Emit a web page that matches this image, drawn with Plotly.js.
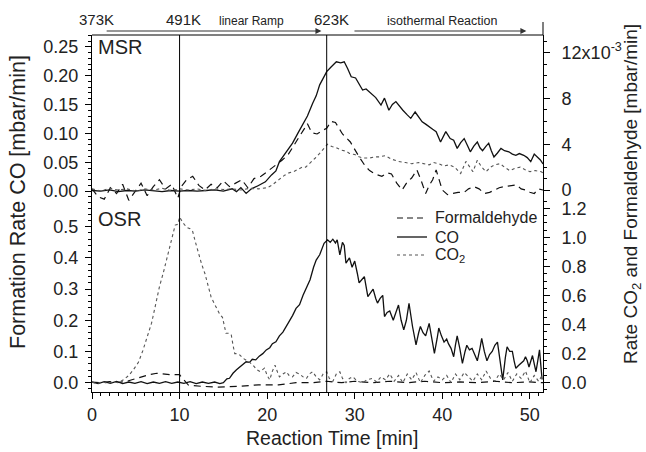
<!DOCTYPE html>
<html>
<head>
<meta charset="utf-8">
<script src="https://cdn.plot.ly/plotly-3.0.1.min.js"></script>
<style>html,body{margin:0;padding:0;background:#fff;}#chart{width:646px;height:452px;}</style>
</head>
<body>
<div id="chart"></div>
<script>
// ---- Data (time [min], value) ----
// MSR panel: CO on left axis [mbar/min]; CO2 & formaldehyde on right axis in units of 1e-3 mbar/min
const msrCO = [[0,0.001],[1,0.0],[2,0.002],[3,-0.001],[4,0.001],[5,0.0],[6,0.002],[7,0.0],[8,-0.001],[9,0.001],[10,0.0],[11,0.001],[12,0.0],[13,0.001],[14,0.002],[15,0.0],[16,0.004],[16.5,-0.001],[17,0.006],[17.6,-0.004],[18.2,0.004],[18.8,0.008],[19.3,0.012],[19.8,0.016],[20.5,0.028],[21.0,0.035],[21.4,0.051],[22.0,0.063],[22.9,0.083],[23.5,0.1],[24.1,0.117],[24.6,0.13],[25.2,0.152],[25.6,0.165],[26.0,0.184],[26.4,0.195],[26.8,0.207],[27.3,0.215],[27.9,0.224],[28.4,0.222],[28.8,0.224],[29.2,0.212],[29.6,0.198],[30.1,0.196],[30.5,0.186],[30.9,0.175],[31.3,0.177],[31.9,0.169],[32.4,0.162],[33.0,0.149],[33.4,0.161],[33.9,0.14],[34.3,0.15],[34.7,0.155],[35.1,0.147],[35.5,0.14],[36.0,0.132],[36.4,0.126],[36.9,0.137],[37.3,0.128],[37.7,0.12],[38.1,0.116],[38.5,0.111],[38.9,0.107],[39.3,0.103],[39.8,0.085],[40.4,0.103],[40.9,0.091],[41.3,0.088],[41.7,0.074],[42.1,0.084],[42.5,0.091],[42.9,0.078],[43.2,0.068],[43.6,0.078],[44.0,0.085],[44.3,0.075],[44.6,0.07],[45.0,0.078],[45.3,0.083],[45.6,0.07],[45.9,0.059],[46.3,0.066],[46.7,0.074],[47.1,0.07],[47.6,0.068],[48.0,0.064],[48.4,0.062],[48.8,0.065],[49.3,0.062],[49.7,0.058],[50.1,0.051],[50.5,0.064],[50.9,0.058],[51.2,0.054],[51.5,0.047]];
const msrHCHO = [[0,0.1],[0.7,-0.6],[1.4,-0.8],[2.1,0.2],[2.8,-0.3],[3.5,0.5],[4.2,-0.9],[4.9,-0.2],[5.6,0.6],[6.3,-0.5],[7.0,0.3],[7.7,0.9],[8.4,0.1],[9.1,0.5],[9.8,-0.7],[10.2,0.3],[10.8,0.9],[11.5,1.2],[12.2,0.4],[12.9,0.0],[13.6,0.5],[14.3,0.2],[15.0,0.8],[15.7,0.3],[16.4,0.6],[17.1,0.9],[17.8,0.2],[18.5,1.0],[19.3,1.2],[20.2,1.7],[21.0,2.2],[21.7,2.6],[22.4,3.1],[23.0,3.9],[23.7,4.7],[24.2,5.3],[24.6,5.8],[25.1,5.0],[25.7,4.9],[26.3,5.2],[26.8,5.4],[27.3,6.0],[27.8,5.9],[28.6,4.9],[29.5,4.2],[30.5,2.9],[31.2,2.1],[31.7,1.7],[32.3,1.4],[33.1,1.2],[33.7,1.5],[34.2,1.4],[34.8,0.6],[35.4,0.0],[36.0,0.7],[36.5,1.05],[37.1,1.75],[37.6,0.8],[38.1,-0.3],[38.5,0.4],[38.9,0.9],[39.3,1.75],[39.6,0.9],[40.0,0.0],[40.6,-0.4],[41.2,-0.3],[41.8,-0.2],[42.5,-0.2],[43.0,0.1],[43.6,0.3],[44.2,0.1],[44.8,-0.3],[45.4,-0.2],[46.0,0.0],[46.5,0.2],[47.1,0.3],[47.8,0.4],[48.5,0.45],[49.0,0.1],[49.5,0.0],[50.0,-0.2],[50.5,-0.3],[51.0,0.1],[51.5,0.0]];
const msrCO2 = [[0,0.1],[1,-0.1],[2,0.15],[3,0.0],[4,0.1],[5,-0.1],[6,0.1],[7,0.0],[8,0.15],[9,-0.05],[10,0.1],[11,0.0],[12,0.1],[13,-0.05],[14,0.1],[15,0.05],[16,0.1],[17,0.0],[18,0.15],[19,0.1],[20,0.2],[20.5,0.4],[21,0.7],[21.5,1.0],[22,1.3],[22.5,1.5],[23,1.6],[23.5,1.8],[24,2.0],[24.4,2.0],[25,2.4],[25.5,2.8],[26,3.2],[26.5,3.6],[26.9,4.0],[27.4,3.8],[27.9,3.7],[28.4,3.5],[29,3.4],[29.4,3.2],[30,3.1],[30.5,2.9],[31,2.8],[31.7,2.8],[32.3,2.9],[32.8,2.9],[33.5,3.0],[34.2,2.7],[35,2.5],[35.8,2.4],[36.5,2.3],[37.3,2.4],[38,2.3],[38.5,2.2],[39,2.4],[39.6,2.3],[40.2,2.1],[40.8,2.2],[41.4,2.0],[42.1,1.45],[42.7,2.5],[43.1,2.0],[43.5,1.6],[44.0,2.6],[44.5,2.0],[45.0,1.6],[45.5,2.0],[46.0,2.2],[46.6,2.3],[47.1,2.0],[47.7,1.7],[48.3,1.9],[48.9,2.0],[49.4,1.8],[50.0,1.6],[50.6,1.7],[51.3,1.6],[51.5,1.5]];
// OSR panel: CO on left axis; CO2 & formaldehyde on right axis [mbar/min]
const osrCO = [[0,0.002],[0.7,-0.003],[1.4,0.003],[2.1,-0.002],[2.8,0.004],[3.5,-0.003],[4.2,0.002],[4.9,-0.002],[5.6,0.003],[6.3,-0.003],[7,0.002],[7.7,-0.002],[8.4,0.003],[9.1,-0.002],[9.8,0.002],[10.5,-0.002],[11.2,0.003],[11.9,-0.003],[12.6,0.002],[13.3,-0.002],[14,0.002],[14.6,-0.003],[15.0,0.0],[15.4,0.012],[15.7,0.014],[16.1,0.03],[16.5,0.041],[16.9,0.05],[17.3,0.058],[17.6,0.067],[18.0,0.065],[18.3,0.075],[18.7,0.073],[19.1,0.085],[19.5,0.093],[19.9,0.105],[20.3,0.112],[20.6,0.125],[21.0,0.131],[21.4,0.15],[21.8,0.162],[22.2,0.18],[22.5,0.195],[22.9,0.215],[23.3,0.238],[23.7,0.25],[24.1,0.28],[24.5,0.308],[24.9,0.33],[25.3,0.37],[25.6,0.393],[26.0,0.41],[26.5,0.447],[26.9,0.458],[27.2,0.45],[27.5,0.46],[27.8,0.448],[28.0,0.458],[28.3,0.41],[28.6,0.45],[28.8,0.44],[29.0,0.383],[29.4,0.4],[29.7,0.37],[30.0,0.39],[30.3,0.35],[30.5,0.32],[30.8,0.33],[31.1,0.34],[31.5,0.276],[31.8,0.29],[32.1,0.30],[32.4,0.27],[32.6,0.255],[32.9,0.27],[33.2,0.28],[33.4,0.212],[33.7,0.225],[34.0,0.23],[34.4,0.20],[34.7,0.225],[35.0,0.249],[35.3,0.2],[35.6,0.169],[35.9,0.2],[36.2,0.254],[36.6,0.18],[37.0,0.121],[37.3,0.16],[37.5,0.18],[37.8,0.16],[38.1,0.15],[38.5,0.19],[38.8,0.14],[39.1,0.094],[39.4,0.14],[39.6,0.175],[39.9,0.15],[40.2,0.13],[40.5,0.14],[40.7,0.125],[41.0,0.11],[41.3,0.083],[41.5,0.12],[41.7,0.15],[42.0,0.11],[42.3,0.062],[42.6,0.1],[42.8,0.12],[43.1,0.105],[43.4,0.11],[43.7,0.09],[44.0,0.07],[44.3,0.11],[44.5,0.142],[44.8,0.1],[45.1,0.07],[45.4,0.09],[45.7,0.1],[46.0,0.12],[46.3,0.13],[46.6,0.07],[46.9,0.009],[47.2,0.08],[47.4,0.115],[47.7,0.1],[48.0,0.1],[48.2,0.07],[48.4,0.046],[48.7,0.055],[49.0,0.062],[49.3,0.07],[49.5,0.083],[49.7,0.07],[49.9,0.05],[50.1,0.07],[50.3,0.087],[50.5,0.06],[50.7,0.035],[50.9,0.07],[51.1,0.105],[51.3,0.04],[51.4,0.01]];
const osrCO2 = [[0,0.003],[0.6,-0.005],[1.2,0.006],[1.8,-0.004],[2.4,0.005],[3.0,0.0],[3.6,0.02],[4.2,0.05],[4.7,0.087],[5.3,0.14],[5.8,0.22],[6.3,0.31],[6.8,0.41],[7.2,0.52],[7.7,0.66],[8.2,0.77],[8.7,0.89],[9.1,1.0],[9.5,1.085],[9.8,1.09],[10.0,1.14],[10.4,1.1],[10.8,1.07],[11.2,1.06],[11.5,1.04],[11.8,0.97],[12.1,0.9],[12.5,0.82],[12.9,0.75],[13.2,0.68],[13.6,0.59],[14.0,0.54],[14.3,0.5],[14.6,0.47],[14.9,0.45],[15.1,0.38],[15.3,0.34],[15.6,0.34],[15.9,0.33],[16.1,0.26],[16.3,0.2],[16.6,0.2],[16.9,0.19],[17.2,0.17],[17.6,0.156],[18.0,0.14],[18.4,0.12],[18.8,0.09],[19.2,0.076],[19.5,0.09],[19.7,0.1],[20.0,0.05],[20.3,0.02],[20.6,0.08],[20.9,0.12],[21.2,0.07],[21.4,0.04],[21.8,0.06],[22.2,0.075],[22.5,0.05],[22.9,0.04],[23.3,0.07],[23.7,0.06],[24.1,0.04],[24.5,0.03],[24.8,0.06],[25.2,0.075],[25.6,0.04],[26.0,0.02],[26.4,0.06],[26.8,0.075],[27.1,0.03],[27.5,0.01],[27.9,0.06],[28.3,0.075],[28.6,0.03],[29.0,0.0],[29.4,0.03],[29.8,0.04],[30.3,0.01],[30.9,0.0],[31.4,0.02],[32.0,0.03],[32.5,0.005],[33.0,0.04],[33.5,0.02],[34.0,0.06],[34.5,0.01],[35.0,0.05],[35.5,0.0],[36.0,0.06],[36.5,0.02],[37.0,0.07],[37.5,0.0],[38.0,0.05],[38.5,0.08],[39.0,0.01],[39.5,0.04],[40.0,0.02],[40.5,0.05],[41.0,0.0],[41.5,0.06],[42.0,0.02],[42.5,0.07],[43.0,0.04],[43.5,0.01],[44.0,0.06],[44.5,0.02],[45.0,0.08],[45.5,0.03],[46.0,0.01],[46.5,0.06],[47.0,0.02],[47.5,0.07],[48.0,0.01],[48.5,0.06],[49.0,0.03],[49.5,0.08],[50.0,0.0],[50.5,0.05],[51.0,0.01],[51.5,0.06]];
const osrHCHO = [[0,0.005],[1,0.0],[2,0.008],[3,0.002],[4,0.01],[4.8,0.025],[5.5,0.04],[6.5,0.055],[7.4,0.065],[8.2,0.06],[9.0,0.055],[10.0,0.055],[10.5,0.02],[11.0,-0.016],[12.5,-0.025],[14.4,-0.03],[16.7,-0.025],[19.0,-0.015],[21.3,-0.015],[23.3,0.0],[25.2,0.0],[26.8,0.01],[28.5,0.0],[30,0.01],[32,0.0],[34,0.01],[36,0.0],[38,0.01],[40,0.0],[42,0.005],[44,0.0],[46,0.01],[48,0.0],[50,0.005],[51.5,0.0]];

// Tick labels and text
const upperRightTickVals = [0, 4, 8, 12];
const upperRightTickText = ['0', '4', '8', '12x10<sup>-3</sup>'];
const markerTimes = [10, 26.8];
const tempLabels = ['373K', '491K', '623K'];
const tempLabelTimes = [0.5, 10.4, 27.4];
const seriesNames = ['Formaldehyde', 'CO', 'CO<sub>2</sub>'];

// ---- Styles ----
const sHCHO = {color: '#111', width: 1.2, dash: '7px,5px'};
const sCO = {color: '#111', width: 1.3};
const sCO2 = {color: '#555', width: 1.1, dash: 'dot'};
const seriesStyles = [sHCHO, sCO, sCO2];
const xs = a => a.map(p => p[0]);
const ys = a => a.map(p => p[1]);

const traces = [
  {x: xs(osrHCHO), y: ys(osrHCHO), name: seriesNames[0], mode: 'lines', line: sHCHO, xaxis: 'x', yaxis: 'y2'},
  {x: xs(osrCO), y: ys(osrCO), name: seriesNames[1], mode: 'lines', line: sCO, xaxis: 'x', yaxis: 'y'},
  {x: xs(osrCO2), y: ys(osrCO2), name: seriesNames[2], mode: 'lines', line: sCO2, xaxis: 'x', yaxis: 'y2'},
  {x: xs(msrCO), y: ys(msrCO), name: seriesNames[1], mode: 'lines', line: sCO, xaxis: 'x', yaxis: 'y3'},
  {x: xs(msrHCHO), y: ys(msrHCHO), name: seriesNames[0], mode: 'lines', line: sHCHO, xaxis: 'x', yaxis: 'y4'},
  {x: xs(msrCO2), y: ys(msrCO2), name: seriesNames[2], mode: 'lines', line: sCO2, xaxis: 'x', yaxis: 'y4'}
];

const axBase = {showline: true, linecolor: '#000', linewidth: 1, ticks: 'outside', ticklen: 6, tickwidth: 1, tickcolor: '#000', showgrid: false, zeroline: false};
const split = 0.518;

// pixel -> paper helpers (plot area: x 92..543, y 35..392)
const px = v => (v - 92) / 451;
const py = v => (392 - v) / 357;

const shapes = markerTimes.map(t => ({type: 'line', xref: 'x', yref: 'paper', x0: t, x1: t, y0: 0, y1: 1, line: {color: '#000', width: 1}}));
shapes.push({type: 'line', xref: 'paper', yref: 'paper', x0: 0, x1: 1, y0: 1, y1: 1, line: {color: '#000', width: 1}});
shapes.push({type: 'line', xref: 'paper', yref: 'paper', x0: 1, x1: 1, y0: 1, y1: py(22), line: {color: '#000', width: 1}});

const annotations = [];
// custom legend rows
const legendRowsY = [218, 237, 255];
seriesNames.forEach((nm, i) => {
  const st = seriesStyles[i];
  shapes.push({type: 'line', xref: 'paper', yref: 'paper', x0: px(397), x1: px(427), y0: py(legendRowsY[i]), y1: py(legendRowsY[i]),
    line: {color: st.color, width: st.width, dash: i === 0 ? '6px,4px' : (st.dash || 'solid')}});
  annotations.push({text: nm, xref: 'paper', yref: 'paper', x: px(433), y: py(legendRowsY[i]), xanchor: 'left', yanchor: 'middle', showarrow: false, font: {size: 16}});
});
tempLabels.forEach((txt, i) => annotations.push({text: txt, xref: 'x', yref: 'paper', x: tempLabelTimes[i], y: py(20), xanchor: 'center', yanchor: 'middle', showarrow: false, font: {size: 15}}));
annotations.push({text: 'linear Ramp', xref: 'x', yref: 'paper', x: 18.2, y: py(21), xanchor: 'center', yanchor: 'middle', showarrow: false, font: {size: 12}});
annotations.push({text: 'isothermal Reaction', xref: 'x', yref: 'paper', x: 40.0, y: py(21), xanchor: 'center', yanchor: 'middle', showarrow: false, font: {size: 12.5}});
annotations.push({text: '', xref: 'x', yref: 'paper', x: 26.2, y: py(31), axref: 'x', ax: 1.5, ayref: 'pixel', ay: 0, showarrow: true, arrowhead: 2, arrowsize: 1, arrowwidth: 1.2, arrowcolor: '#333'});
annotations.push({text: '', xref: 'x', yref: 'paper', x: 49.6, y: py(31), axref: 'x', ax: 29.8, ayref: 'pixel', ay: 0, showarrow: true, arrowhead: 2, arrowsize: 1, arrowwidth: 1.2, arrowcolor: '#333'});
annotations.push({text: 'MSR', xref: 'paper', yref: 'paper', x: 0.008, y: 0.966, xanchor: 'left', yanchor: 'middle', showarrow: false, font: {size: 20}});
annotations.push({text: 'OSR', xref: 'paper', yref: 'paper', x: 0.008, y: 0.485, xanchor: 'left', yanchor: 'middle', showarrow: false, font: {size: 20}});
annotations.push({text: 'Formation Rate CO [mbar/min]', xref: 'paper', yref: 'paper', x: px(18), y: py(202), xanchor: 'center', yanchor: 'middle', textangle: -90, showarrow: false, font: {size: 21.5}});
annotations.push({text: 'Rate CO<sub>2</sub> and Formaldehyde [mbar/min]', xref: 'paper', yref: 'paper', x: px(632), y: py(194), xanchor: 'center', yanchor: 'middle', textangle: -90, showarrow: false, font: {size: 19}});
annotations.push({text: 'Reaction Time [min]', xref: 'paper', yref: 'paper', x: px(332), y: py(438), xanchor: 'center', yanchor: 'middle', showarrow: false, font: {size: 19.5}});

const layout = {
  width: 646, height: 452,
  margin: {l: 92, r: 103, t: 35, b: 60, pad: 0},
  paper_bgcolor: '#fff', plot_bgcolor: '#fff',
  font: {family: '"Liberation Sans", Arial, sans-serif', size: 18, color: '#222'},
  showlegend: false,
  xaxis: Object.assign({}, axBase, {range: [0, 51.5], anchor: 'y', tick0: 0, dtick: 10, minor: {dtick: 1, ticks: 'outside', ticklen: 3, tickcolor: '#000'}}),
  yaxis: Object.assign({}, axBase, {domain: [0, split], range: [-0.030, 0.563], anchor: 'x', tick0: 0, dtick: 0.1, tickformat: '.1f', ticklabelstandoff: 3, minor: {dtick: 0.02, ticks: 'outside', ticklen: 3, tickcolor: '#000'}}),
  yaxis2: Object.assign({}, axBase, {overlaying: 'y', side: 'right', anchor: 'x', range: [-0.064, 1.209], tick0: 0, dtick: 0.2, tickformat: '.1f', ticklabelstandoff: 8, minor: {dtick: 0.05, ticks: 'outside', ticklen: 3, tickcolor: '#000'}}),
  yaxis3: Object.assign({}, axBase, {domain: [split, 1], range: [-0.0277, 0.2704], anchor: 'x', tick0: 0, dtick: 0.05, tickformat: '.2f', ticklabelstandoff: 3, minor: {dtick: 0.01, ticks: 'outside', ticklen: 3, tickcolor: '#000'}}),
  yaxis4: Object.assign({}, axBase, {overlaying: 'y3', side: 'right', anchor: 'x', range: [-1.49, 13.55], tickmode: 'array', tickvals: upperRightTickVals, ticktext: upperRightTickText, ticklabelstandoff: 8, minor: {dtick: 1, ticks: 'outside', ticklen: 3, tickcolor: '#000'}}),
  shapes: shapes,
  annotations: annotations
};

Plotly.newPlot('chart', traces, layout, {displayModeBar: false, staticPlot: true});
</script>
</body>
</html>
